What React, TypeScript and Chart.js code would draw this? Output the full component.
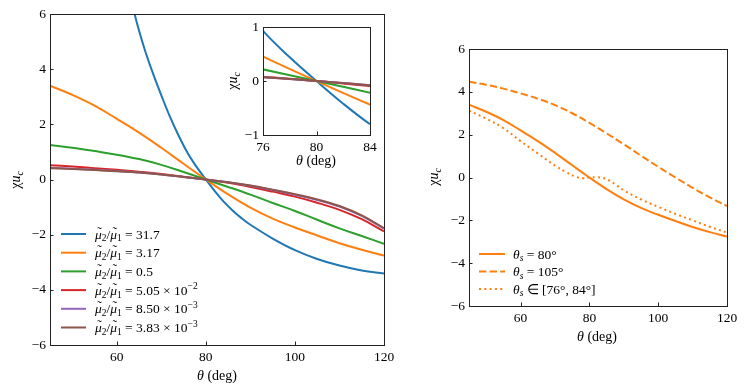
import React, { useEffect, useRef } from 'react';
import { Chart, registerables } from 'chart.js';
Chart.register(...registerables);

// ---------- data ----------
const THETA = [45, 50, 55, 60, 65, 70, 75, 80, 85, 90, 95, 100, 105, 110, 115, 120];
const THETA_BLUE = [60, 62, 64, 66, 68, 70, 72, 74, 76, 78, 80, 82, 84, 86, 88, 90, 95, 100, 105, 110, 115, 120];
const THETA_DOT = [45, 50, 55, 60, 65, 70, 73, 76, 78, 80, 82, 84, 86, 88, 90, 95, 100, 105, 110, 115, 120];

const MU_31_7 = [9.4, 7.5, 6.0, 4.85, 3.9, 3.05, 2.25, 1.55, 0.93, 0.44, 0, -0.42, -0.8, -1.12, -1.4, -1.64, -2.14, -2.56, -2.88, -3.12, -3.3, -3.41];
const MU_3_17 = [3.4, 3.07, 2.68, 2.2, 1.7, 1.15, 0.57, 0, -0.54, -1.02, -1.42, -1.74, -2.03, -2.31, -2.55, -2.76];
const MU_0_5 = [1.25, 1.15, 1.03, 0.9, 0.74, 0.53, 0.27, 0, -0.27, -0.55, -0.85, -1.14, -1.46, -1.77, -2.05, -2.33];
const MU_5_05E2 = [0.52, 0.47, 0.41, 0.35, 0.28, 0.2, 0.1, 0, -0.12, -0.27, -0.44, -0.62, -0.84, -1.1, -1.44, -1.88];
const MU_8_50E3 = [0.43, 0.39, 0.35, 0.31, 0.25, 0.18, 0.09, 0, -0.1, -0.23, -0.38, -0.55, -0.74, -0.98, -1.32, -1.78];
const MU_3_83E3 = [0.41, 0.38, 0.34, 0.3, 0.25, 0.18, 0.09, 0, -0.1, -0.22, -0.37, -0.53, -0.72, -0.96, -1.3, -1.76];

const THETA_S_80 = MU_3_17;
const THETA_S_105 = [4.47, 4.33, 4.15, 3.93, 3.68, 3.38, 3.0, 2.55, 2.06, 1.55, 1.02, 0.5, 0.0, -0.48, -0.93, -1.33];
const THETA_S_RANGE = [3.12, 2.75, 2.3, 1.7, 1.12, 0.56, 0.27, 0.04, -0.03, 0, 0.01, -0.02, -0.16, -0.38, -0.6, -1.02, -1.37, -1.7, -2.0, -2.3, -2.57];

const LEFT_LABELS = ['31.7', '3.17', '0.5', '5.05|−2', '8.50|−3', '3.83|−3'];
const RIGHT_LABELS = ['= 80°', '= 105°', '∈ [76°, 84°]'];
const X_TICKS = [60, 80, 100, 120];
const Y_TICKS = [-6, -4, -2, 0, 2, 4, 6];
const INSET_X_TICKS = [76, 80, 84];
const INSET_Y_TICKS = [-1, 0, 1];

const COLORS = ['#1f77b4', '#ff7f0e', '#2ca02c', '#d62728', '#9467bd', '#8c564b'];
const FONT = '"Liberation Serif", "Times New Roman", serif';
const DASHES: number[][] = [[], [7.4, 3.2], [2, 3.3]];

// ---------- helpers ----------
type Seg = { t: string; i?: boolean; sub?: boolean; sup?: boolean; tilde?: boolean };

function drawRich(ctx: CanvasRenderingContext2D, segs: Seg[], x: number, y: number, size: number, align: 'left' | 'center') {
  const parts = segs.map((s) => {
    const fs = s.sub || s.sup ? size * 0.7 : size;
    const font = `${s.i ? 'italic ' : ''}${fs}px ${FONT}`;
    ctx.font = font;
    return { s, font, w: ctx.measureText(s.t).width };
  });
  const total = parts.reduce((a, p) => a + p.w, 0);
  let cx = align === 'center' ? x - total / 2 : x;
  ctx.textAlign = 'left';
  ctx.textBaseline = 'alphabetic';
  ctx.fillStyle = '#000';
  for (const p of parts) {
    ctx.font = p.font;
    const dy = p.s.sub ? size * 0.22 : p.s.sup ? -size * 0.4 : 0;
    ctx.fillText(p.s.t, cx, y + dy);
    if (p.s.tilde) {
      ctx.font = `${size}px ${FONT}`;
      ctx.textAlign = 'center';
      ctx.fillText('˜', cx + p.w / 2 + 1, y - size * 0.22);
      ctx.textAlign = 'left';
    }
    cx += p.w;
  }
}

const Y_TITLE: Seg[] = [{ t: 'χ' }, { t: 'u', i: true }, { t: 'c', i: true, sub: true }];
const X_TITLE: Seg[] = [{ t: 'θ', i: true }, { t: ' (deg)' }];

function drawYTitle(ctx: CanvasRenderingContext2D, x: number, y: number, size: number) {
  ctx.save();
  ctx.translate(x, y);
  ctx.rotate(-Math.PI / 2);
  drawRich(ctx, Y_TITLE, 0, size * 0.3, size, 'center');
  ctx.restore();
}

const fmt = (v: number) => (v < 0 ? '−' + Math.abs(v) : String(v));

function pts(xs: number[], ys: number[]) {
  return xs.map((x, i) => ({ x, y: ys[i] }));
}

interface Cfg {
  datasets: any[];
  xMin: number; xMax: number; yMin: number; yMax: number;
  xTicks: number[]; yTicks: number[];
  pad: { left: number; right: number; top: number; bottom: number };
  yWidth: number; xHeight: number;
  decor: (ctx: CanvasRenderingContext2D, chart: any) => void;
}

function build(canvas: HTMLCanvasElement, c: Cfg) {
  const tickFont = { family: FONT, size: 13.5 };
  const frame = {
    id: 'frame',
    beforeDatasetsDraw(chart: any) {
      const { ctx, chartArea: a } = chart;
      ctx.save();
      ctx.fillStyle = '#fff';
      ctx.fillRect(a.left, a.top, a.right - a.left, a.bottom - a.top);
      ctx.restore();
    },
    afterDraw(chart: any) {
      const { ctx, chartArea: a, scales } = chart;
      ctx.save();
      ctx.strokeStyle = '#222';
      ctx.lineWidth = 1;
      ctx.strokeRect(Math.round(a.left) + 0.5, Math.round(a.top) + 0.5, Math.round(a.right - a.left), Math.round(a.bottom - a.top));
      ctx.beginPath();
      for (const v of c.xTicks) {
        const px = Math.round(scales.x.getPixelForValue(v)) + 0.5;
        ctx.moveTo(px, a.bottom);
        ctx.lineTo(px, a.bottom - 3.5);
      }
      for (const v of c.yTicks) {
        const py = Math.round(scales.y.getPixelForValue(v)) + 0.5;
        ctx.moveTo(a.left, py);
        ctx.lineTo(a.left + 3.5, py);
      }
      ctx.stroke();
      c.decor(ctx, chart);
      ctx.restore();
    },
  };
  return new Chart(canvas, {
    type: 'line',
    data: { datasets: c.datasets },
    options: {
      animation: false,
      responsive: false,
      devicePixelRatio: 1,
      layout: { padding: c.pad },
      elements: { point: { radius: 0 }, line: { borderWidth: 2, tension: 0.4 } },
      plugins: { legend: { display: false }, tooltip: { enabled: false }, title: { display: false } },
      scales: {
        x: {
          type: 'linear', min: c.xMin, max: c.xMax,
          grid: { display: false, drawTicks: false },
          border: { display: false },
          ticks: { font: tickFont, color: '#000', padding: 4, maxRotation: 0, callback: (v: any) => fmt(Number(v)) },
          afterBuildTicks: (s: any) => { s.ticks = c.xTicks.map((value) => ({ value })); },
          afterFit: (s: any) => { s.height = c.xHeight; },
        },
        y: {
          type: 'linear', min: c.yMin, max: c.yMax,
          grid: { display: false, drawTicks: false },
          border: { display: false },
          ticks: { font: tickFont, color: '#000', padding: 4, callback: (v: any) => fmt(Number(v)) },
          afterBuildTicks: (s: any) => { s.ticks = c.yTicks.map((value) => ({ value })); },
          afterFit: (s: any) => { s.width = c.yWidth; },
        },
      },
    } as any,
    plugins: [frame],
  });
}

function leftDatasets() {
  const series = [
    pts(THETA_BLUE, MU_31_7), pts(THETA, MU_3_17), pts(THETA, MU_0_5),
    pts(THETA, MU_5_05E2), pts(THETA, MU_8_50E3), pts(THETA, MU_3_83E3),
  ];
  return series.map((d, i) => ({ data: d, borderColor: COLORS[i], backgroundColor: COLORS[i], order: 5 - i, fill: false }));
}

function legendSegs(lbl: string): Seg[] {
  const base: Seg[] = [{ t: 'μ', i: true, tilde: true }, { t: '2', sub: true }, { t: '/' }, { t: 'μ', i: true, tilde: true }, { t: '1', sub: true }];
  const [m, e] = lbl.split('|');
  if (e) return [...base, { t: ' = ' + m + ' × 10' }, { t: e, sup: true }];
  return [...base, { t: ' = ' + m }];
}

function ChartCanvas({ left, top, width, height, make }: { left: number; top: number; width: number; height: number; make: (c: HTMLCanvasElement) => Chart }) {
  const ref = useRef<HTMLCanvasElement>(null);
  useEffect(() => {
    const ch = make(ref.current!);
    return () => ch.destroy();
  }, []);
  return <canvas ref={ref} width={width} height={height} style={{ position: 'absolute', left, top, width, height }} />;
}

export default function App() {
  const makeLeft = (cv: HTMLCanvasElement) =>
    build(cv, {
      datasets: leftDatasets(),
      xMin: 45, xMax: 120, yMin: -6, yMax: 6, xTicks: X_TICKS, yTicks: Y_TICKS,
      pad: { left: 0, right: 16, top: 14, bottom: 0 }, yWidth: 50, xHeight: 47,
      decor: (ctx) => {
        drawYTitle(ctx, 16, 180, 14);
        drawRich(ctx, X_TITLE, 217, 380, 14, 'center');
        LEFT_LABELS.forEach((lbl, i) => {
          const y = 234 + i * 18.7;
          ctx.strokeStyle = COLORS[i];
          ctx.lineWidth = 2;
          ctx.setLineDash([]);
          ctx.beginPath();
          ctx.moveTo(61, y);
          ctx.lineTo(86, y);
          ctx.stroke();
          drawRich(ctx, legendSegs(lbl), 95, y + 4.5, 13.5, 'left');
        });
      },
    });

  const makeInset = (cv: HTMLCanvasElement) =>
    build(cv, {
      datasets: leftDatasets(),
      xMin: 76, xMax: 84, yMin: -1, yMax: 1, xTicks: INSET_X_TICKS, yTicks: INSET_Y_TICKS,
      pad: { left: 0, right: 20, top: 12, bottom: 0 }, yWidth: 48, xHeight: 40,
      decor: (ctx) => {
        drawYTitle(ctx, 18, 66, 14);
        drawRich(ctx, X_TITLE, 101, 150, 14, 'center');
      },
    });

  const makeRight = (cv: HTMLCanvasElement) =>
    build(cv, {
      datasets: [THETA_S_80, THETA_S_105].map((d, i) => ({
        data: pts(THETA, d), borderColor: COLORS[1], borderDash: DASHES[i], order: i, fill: false,
      })).concat([{
        data: pts(THETA_DOT, THETA_S_RANGE), borderColor: COLORS[1], borderDash: DASHES[2], order: 2, fill: false,
      }]),
      xMin: 45, xMax: 120, yMin: -6, yMax: 6, xTicks: X_TICKS, yTicks: Y_TICKS,
      pad: { left: 0, right: 20, top: 49, bottom: 0 }, yWidth: 69, xHeight: 86,
      decor: (ctx) => {
        drawYTitle(ctx, 34, 177, 14);
        drawRich(ctx, X_TITLE, 197, 341, 14, 'center');
        RIGHT_LABELS.forEach((lbl, i) => {
          const y = 254 + i * 17.5;
          ctx.strokeStyle = COLORS[1];
          ctx.lineWidth = 2;
          ctx.setLineDash(DASHES[i]);
          ctx.beginPath();
          ctx.moveTo(79, y);
          ctx.lineTo(105, y);
          ctx.stroke();
          ctx.setLineDash([]);
          drawRich(ctx, [{ t: 'θ', i: true }, { t: 's', i: true, sub: true }, { t: ' ' + lbl }], 113, y + 4.5, 13.5, 'left');
        });
      },
    });

  return (
    <div style={{ position: 'absolute', left: 0, top: 0, width: 747, height: 392, background: '#fff' }}>
      <ChartCanvas left={0} top={0} width={400} height={392} make={makeLeft} />
      <ChartCanvas left={215} top={15} width={175} height={160} make={makeInset} />
      <ChartCanvas left={400} top={0} width={347} height={392} make={makeRight} />
    </div>
  );
}
